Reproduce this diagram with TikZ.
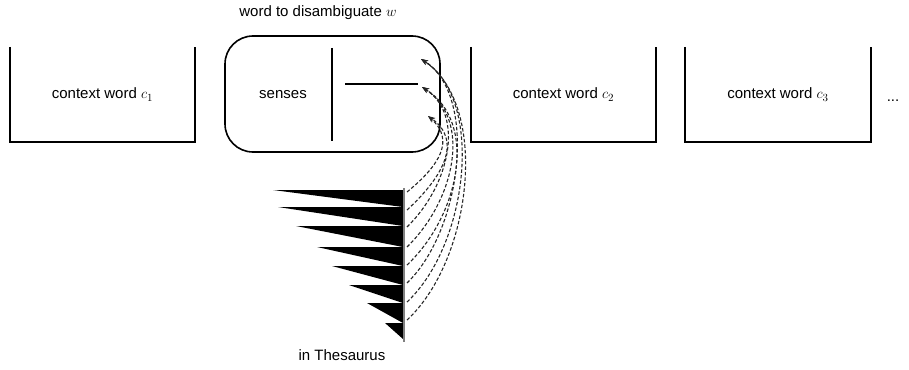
\documentclass[tikz,border=0pt]{standalone}
\usepackage{fontspec}
\setmainfont{Liberation Sans}
\usetikzlibrary{arrows.meta}
\begin{document}
\begin{tikzpicture}[x=1pt,y=-1pt,
  txt/.style={font=\fontsize{15}{18}\selectfont, inner sep=0pt},
  ctxbox/.style={txt, minimum width=185pt, minimum height=95pt},
  boxline/.style={line width=1.8pt, black},
  wedge/.style={fill=black},
  link/.style={draw=black!85, dash pattern=on 3.5pt off 2pt, line width=1.1pt,
    -{Stealth[length=7pt,width=5pt]}}]
\useasboundingbox (0,0) rectangle (909,369);

% context boxes (open at the top)
\node[ctxbox] (c1) at (102.5,94.5) {context word $c_1$};
\node[ctxbox] (c2) at (563.5,94.5) {context word $c_2$};
\node[ctxbox] (c3) at (778,94.5) {context word $c_3$};
\foreach \b in {c1,c2,c3}
  \draw[boxline] (\b.north west) -- (\b.south west) -- (\b.south east) -- (\b.north east);
\node[txt] (dots) at (893,101) {...};

% word to disambiguate
\node[draw, line width=1.6pt, rounded corners=28pt, minimum width=215pt,
      minimum height=116pt, inner sep=0pt] (w) at (332.5,94) {};
\node[txt] (wlabel) at (318,13) {word to disambiguate $w$};
\node[txt] (senses) at (283,95) {senses};
\draw[boxline] (332,48) -- (332,141);
\draw[boxline] (345,84) -- (418,84);
\coordinate (s1) at (421,59);
\coordinate (s2) at (422,87);
\coordinate (s3) at (428,116);

% thesaurus
\foreach \tx/\ya/\yb in {273/190/207, 278/207/226, 296/226/247, 317/247/266,
                         332/266/285, 349/285/303, 367/303/323, 385/323/339}
  \fill[wedge] (\tx,\ya) -- (403,\ya) -- (403,\yb) -- cycle;
\draw[gray, line width=1.5pt] (404,188) -- (404,342);
\node[txt] (thes) at (342,355) {in Thesaurus};

\foreach \i/\y in {1/192,2/210,3/227,4/247,5/265,6/283,7/302,8/320}
  \coordinate (t\i) at (407,\y);

% links from thesaurus entries to senses
\draw[link] (t1) .. controls (440,165) and (455,140) .. (s3);
\draw[link] (t2) .. controls (445,175) and (462,140) .. (s3);
\draw[link] (t3) .. controls (450,185) and (465,115) .. (s2);
\draw[link] (t4) .. controls (455,200) and (472,120) .. (s2);
\draw[link] (t5) .. controls (460,215) and (478,122) .. (s2);
\draw[link] (t6) .. controls (462,230) and (478,95) .. (s1);
\draw[link] (t7) .. controls (468,245) and (485,100) .. (s1);
\draw[link] (t8) .. controls (472,260) and (490,105) .. (s1);
\end{tikzpicture}
\end{document}
